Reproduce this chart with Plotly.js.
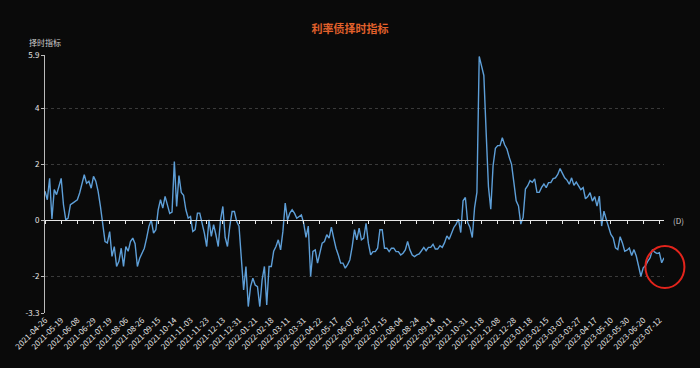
<!DOCTYPE html>
<html>
<head>
<meta charset="utf-8">
<script src="https://cdn.plot.ly/plotly-3.0.1.min.js"></script>
<style>
html,body{margin:0;padding:0;background:#0a0a0a;}
#chart{width:700px;height:368px;}
</style>
</head>
<body>
<div id="chart"></div>
<script>
// Tick labels (every 14 trading days)
const tickLabels = ["2021-04-26","2021-05-19","2021-06-08","2021-06-29","2021-07-19","2021-08-06","2021-08-26","2021-09-15","2021-10-14","2021-11-03","2021-11-23","2021-12-13","2021-12-31","2022-01-21","2022-02-18","2022-03-11","2022-03-31","2022-04-22","2022-05-17","2022-06-07","2022-06-27","2022-07-15","2022-08-04","2022-08-24","2022-09-14","2022-10-11","2022-10-31","2022-11-18","2022-12-08","2022-12-28","2023-01-18","2023-02-15","2023-03-07","2023-03-27","2023-04-17","2023-05-10","2023-05-30","2023-06-20","2023-07-12"];
const tickStep = 14;      // trading days between labels
const sampleStep = 2;     // trading days between samples

// Timing indicator values (sampled every 2 trading days)
const timingValues = [
1.04,0.74,1.5,0.05,1.1,0.92,1.2,1.5,0.56,0.02,
0.08,0.56,0.62,0.68,0.74,0.98,1.27,1.63,1.33,1.4,
1.15,1.57,1.4,1.04,0.5,-0.2,-0.75,-0.8,-0.4,-1.28,
-0.93,-1.64,-1.46,-0.99,-1.64,-0.93,-1.1,-0.75,-0.63,-0.83,
-1.64,-1.35,-1.17,-0.99,-0.63,-0.21,0.02,-0.45,-0.33,0.38,
0.74,0.44,0.86,0.56,0.25,0.3,2.1,0.5,1.6,1.0,
0.9,0.38,0.08,0.14,-0.39,-0.33,0.26,0.26,-0.1,-0.45,
-0.93,0.02,-0.57,-0.15,-0.51,-0.93,0.02,0.5,-0.6,-0.93,
-0.21,0.32,0.32,-0.04,-0.2,-1.4,-2.48,-1.64,-3.07,-2.36,
-2.06,-2.3,-2.36,-3.07,-2.12,-1.64,-3.01,-1.64,-1.64,-1.1,
-0.93,-0.69,-1.05,-0.39,0.62,0.02,0.26,0.38,0.26,0.08,
0.14,0.2,-0.1,-0.6,-0.2,-2.0,-1.1,-1.05,-1.52,-1.17,
-0.81,-0.75,-0.51,-0.63,-0.24,-0.63,-0.99,-1.23,-1.52,-1.52,
-1.7,-1.58,-1.4,-0.93,-0.33,-0.69,-0.27,-0.69,-0.63,-0.1,
-0.81,-1.23,-1.11,-1.11,-0.99,-0.33,-0.33,-0.99,-0.99,-1.11,
-0.99,-0.99,-1.11,-1.11,-1.23,-1.17,-1.05,-0.75,-1.05,-1.23,
-1.29,-1.23,-1.19,-1.08,-0.96,-1.08,-0.96,-0.96,-0.85,-1.02,
-1.02,-0.9,-0.96,-0.79,-0.55,-0.67,-0.43,-0.25,-0.13,0.05,
-0.43,0.7,0.82,-0.07,-0.25,-0.61,0.46,1.0,5.85,5.5,
5.17,3.14,1.2,0.4,1.95,2.57,2.67,2.67,2.95,2.7,
2.55,2.25,2.0,1.36,0.7,0.52,-0.13,0.11,1.12,1.24,
1.42,1.36,1.48,1.0,1.0,1.18,1.3,1.17,1.35,1.35,
1.49,1.52,1.64,1.85,1.7,1.52,1.44,1.29,1.52,1.25,
1.37,1.23,1.1,1.17,0.77,0.85,0.99,0.69,0.85,0.51,
0.87,-0.2,0.33,0.04,-0.26,-0.5,-0.62,-0.98,-1.04,-0.58,
-0.8,-1.1,-1.06,-0.98,-1.25,-1.04,-1.27,-1.69,-1.99,-1.69,
-1.61,-1.45,-1.33,-1.04,-1.13,-1.18,-1.15,-1.51,-1.33
];

const yMin = -3.3, yMax = 5.9;
const yTicks = [-3.3, -2, 0, 2, 4, 5.9];
const yTickText = ["-3.3", "-2", "0", "2", "4", "5.9"];

const xs = timingValues.map((_, i) => i * sampleStep);
const xEnd = xs[xs.length - 1];
const tickVals = tickLabels.map((_, i) => i * tickStep);

const trace = {
  x: xs, y: timingValues, type: 'scatter', mode: 'lines',
  line: {color: '#5e9fd8', width: 1.4}, hoverinfo: 'skip', showlegend: false
};
// empty helper trace so the zero-position axis (with its ticks) is drawn
const axisHelper = {x: [], y: [], type: 'scatter', mode: 'lines', xaxis: 'x2', yaxis: 'y',
  hoverinfo: 'skip', showlegend: false};

const zeroPos = (0 - yMin) / (yMax - yMin);

const layout = {
  width: 700, height: 368,
  margin: {l: 45, r: 36, t: 55, b: 55},
  paper_bgcolor: '#0a0a0a', plot_bgcolor: '#0a0a0a',
  font: {family: 'Noto Sans CJK SC, DejaVu Sans, sans-serif', color: '#dddddd'},
  title: {text: '<b>利率债择时指标</b>', x: 0.5, xanchor: 'center', y: 0.92, yanchor: 'middle',
          font: {size: 11, color: '#e2612c', family: 'Noto Sans CJK SC'}},
  xaxis: {
    range: [0, xEnd], tickmode: 'array', tickvals: tickVals, ticktext: tickLabels,
    tickangle: -45, tickfont: {size: 8, color: '#e6e6e6'}, showgrid: false,
    showline: false, zeroline: false, ticks: '', fixedrange: true
  },
  xaxis2: {
    overlaying: 'x', anchor: 'free', position: zeroPos, side: 'bottom', range: [0, xEnd],
    tickmode: 'array', tickvals: tickVals, showticklabels: false,
    showline: true, linecolor: '#e6e6e6', linewidth: 1,
    ticks: 'outside', ticklen: 3, tickcolor: '#e6e6e6', showgrid: false, zeroline: false
  },
  yaxis: {
    range: [yMin, yMax], tickmode: 'array', tickvals: yTicks, ticktext: yTickText,
    tickfont: {size: 8, color: '#e6e6e6'}, showline: true, linecolor: '#bbbbbb', linewidth: 1,
    ticks: 'outside', ticklen: 3, tickcolor: '#bbbbbb',
    showgrid: true, gridcolor: '#3a3a3a', griddash: 'dot', gridwidth: 1,
    zeroline: true, zerolinecolor: '#e6e6e6', zerolinewidth: 1
  },
  annotations: [
    {text: '择时指标', xref: 'paper', yref: 'paper', x: 0, y: 1, xanchor: 'center', yanchor: 'bottom',
     yshift: 5, showarrow: false, font: {size: 8, color: '#cccccc'}},
    {text: '(D)', xref: 'paper', yref: 'y', x: 1, y: 0, xanchor: 'left', yanchor: 'middle',
     xshift: 7, showarrow: false, font: {size: 8, color: '#cccccc'}}
  ],
  shapes: [
    {type: 'circle', xref: 'paper', yref: 'paper', x0: 0.970, x1: 1.033, y0: 0.097, y1: 0.26,
     line: {color: '#e3241c', width: 2}}
  ]
};

Plotly.newPlot('chart', [trace, axisHelper], layout, {displayModeBar: false, staticPlot: true});
</script>
</body>
</html>
